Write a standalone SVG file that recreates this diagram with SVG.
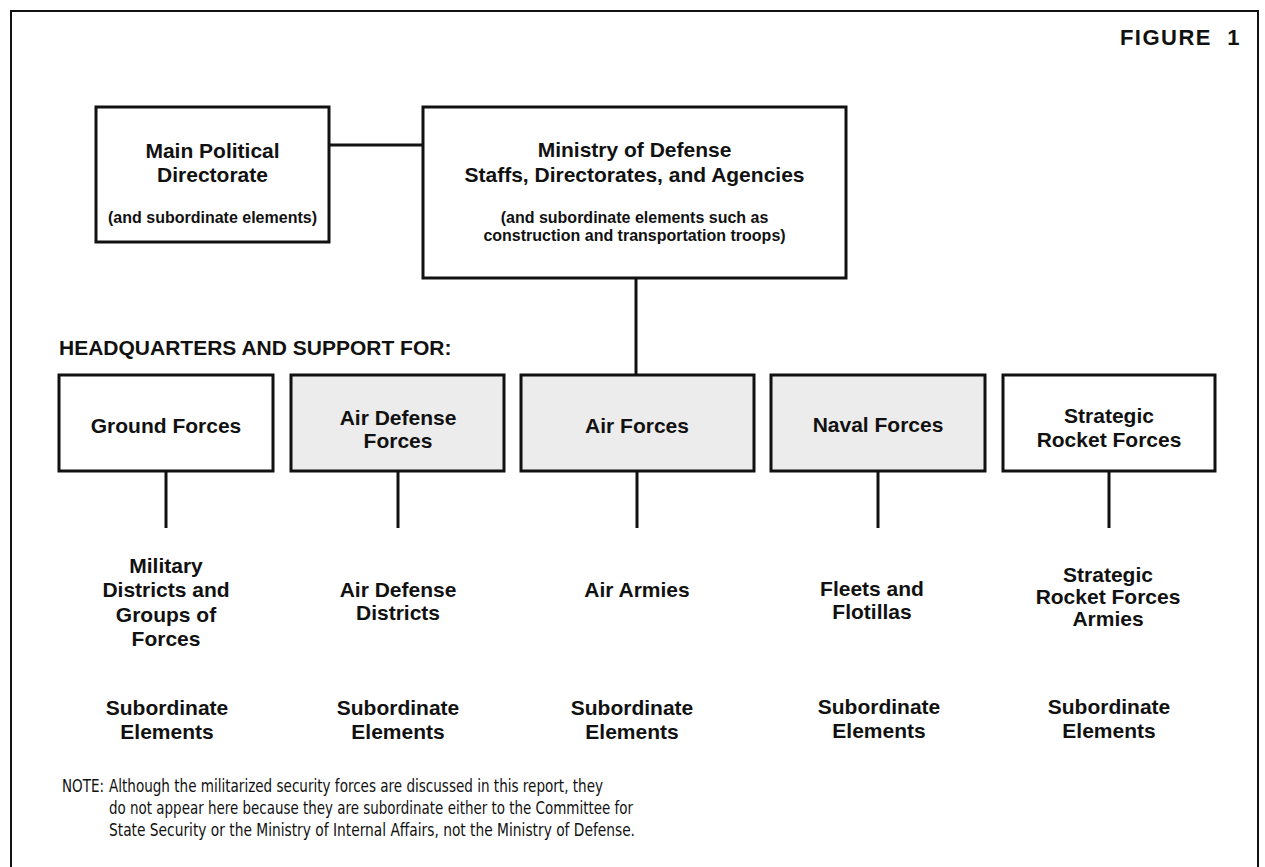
<svg xmlns="http://www.w3.org/2000/svg" width="1265" height="867" viewBox="0 0 1265 867">
<style>
.bg{fill:#ffffff}
.frame{fill:none;stroke:#111;stroke-width:2}
.box{fill:#ffffff;stroke:#111;stroke-width:3}
.shade{fill:#ececec;stroke:#111;stroke-width:3}
.line{fill:none;stroke:#111;stroke-width:3}
text{font-family:"Liberation Sans",Arial,sans-serif;fill:#111;font-weight:bold;text-anchor:middle}
.t{font-size:21px}
.s{font-size:16px}
.hq{font-size:21px;text-anchor:start}
.fig{font-size:22px;text-anchor:end;letter-spacing:1.5px}
.note{font-family:"Liberation Sans Narrow","DejaVu Sans Condensed","Liberation Sans",sans-serif;font-size:17px;font-weight:normal;text-anchor:start}
</style>
<rect class="bg" x="0" y="0" width="1265" height="867"/>
<path class="frame" d="M11,867 V11 H1258 V867"/>
<text class="fig" x="1241" y="45" xml:space="preserve">FIGURE  1</text>
<g id="connectors">
<line class="line" x1="329" y1="145" x2="423" y2="145"/>
<line class="line" x1="636" y1="279" x2="636" y2="375"/>
<line class="line" x1="166" y1="471" x2="166" y2="528"/>
<line class="line" x1="398" y1="471" x2="398" y2="528"/>
<line class="line" x1="637" y1="471" x2="637" y2="528"/>
<line class="line" x1="878" y1="471" x2="878" y2="528"/>
<line class="line" x1="1109" y1="471" x2="1109" y2="528"/>
</g>
<g id="main-political">
<rect class="box" x="96" y="107" width="233" height="135"/>
<text class="t" x="212.5" y="158">Main Political</text>
<text class="t" x="212.5" y="182">Directorate</text>
<text class="s" x="212.5" y="223">(and subordinate elements)</text>
</g>
<g id="ministry">
<rect class="box" x="423" y="107" width="423" height="171"/>
<text class="t" x="634.5" y="157">Ministry of Defense</text>
<text class="t" x="634.5" y="182">Staffs, Directorates, and Agencies</text>
<text class="s" x="634.5" y="223">(and subordinate elements such as</text>
<text class="s" x="634.5" y="241">construction and transportation troops)</text>
</g>
<text class="hq" x="59" y="355">HEADQUARTERS AND SUPPORT FOR:</text>
<g id="ground-forces">
<rect class="box" x="59" y="375" width="214" height="96"/>
<text class="t" x="166" y="433">Ground Forces</text>
</g>
<g id="air-defense-forces">
<rect class="shade" x="291" y="375" width="213" height="96"/>
<text class="t" x="398" y="425">Air Defense</text>
<text class="t" x="398" y="448">Forces</text>
</g>
<g id="air-forces">
<rect class="shade" x="521" y="375" width="233" height="96"/>
<text class="t" x="637" y="433">Air Forces</text>
</g>
<g id="naval-forces">
<rect class="shade" x="771" y="375" width="214" height="96"/>
<text class="t" x="878" y="432">Naval Forces</text>
</g>
<g id="strategic-rocket-forces">
<rect class="box" x="1003" y="375" width="212" height="96"/>
<text class="t" x="1109" y="423">Strategic</text>
<text class="t" x="1109" y="447">Rocket Forces</text>
</g>
<g id="military-districts">
<text class="t" x="166" y="573">Military</text>
<text class="t" x="166" y="597">Districts and</text>
<text class="t" x="166" y="622">Groups of</text>
<text class="t" x="166" y="646">Forces</text>
</g>
<g id="air-defense-districts">
<text class="t" x="398" y="597">Air Defense</text>
<text class="t" x="398" y="620">Districts</text>
</g>
<g id="air-armies">
<text class="t" x="637" y="597">Air Armies</text>
</g>
<g id="fleets">
<text class="t" x="872" y="596">Fleets and</text>
<text class="t" x="872" y="619">Flotillas</text>
</g>
<g id="srf-armies">
<text class="t" x="1108" y="582">Strategic</text>
<text class="t" x="1108" y="604">Rocket Forces</text>
<text class="t" x="1108" y="626">Armies</text>
</g>
<g id="sub-1"><text class="t" x="167" y="715">Subordinate</text><text class="t" x="167" y="739">Elements</text></g>
<g id="sub-2"><text class="t" x="398" y="715">Subordinate</text><text class="t" x="398" y="739">Elements</text></g>
<g id="sub-3"><text class="t" x="632" y="715">Subordinate</text><text class="t" x="632" y="739">Elements</text></g>
<g id="sub-4"><text class="t" x="879" y="714">Subordinate</text><text class="t" x="879" y="738">Elements</text></g>
<g id="sub-5"><text class="t" x="1109" y="714">Subordinate</text><text class="t" x="1109" y="738">Elements</text></g>
<g id="note">
<text class="note" x="62" y="792" textLength="42" lengthAdjust="spacingAndGlyphs">NOTE:</text>
<text class="note" x="109" y="792" textLength="494" lengthAdjust="spacingAndGlyphs">Although the militarized security forces are discussed in this report, they</text>
<text class="note" x="109" y="814" textLength="524" lengthAdjust="spacingAndGlyphs">do not appear here because they are subordinate either to the Committee for</text>
<text class="note" x="109" y="836" textLength="526" lengthAdjust="spacingAndGlyphs">State Security or the Ministry of Internal Affairs, not the Ministry of Defense.</text>
</g>
</svg>
